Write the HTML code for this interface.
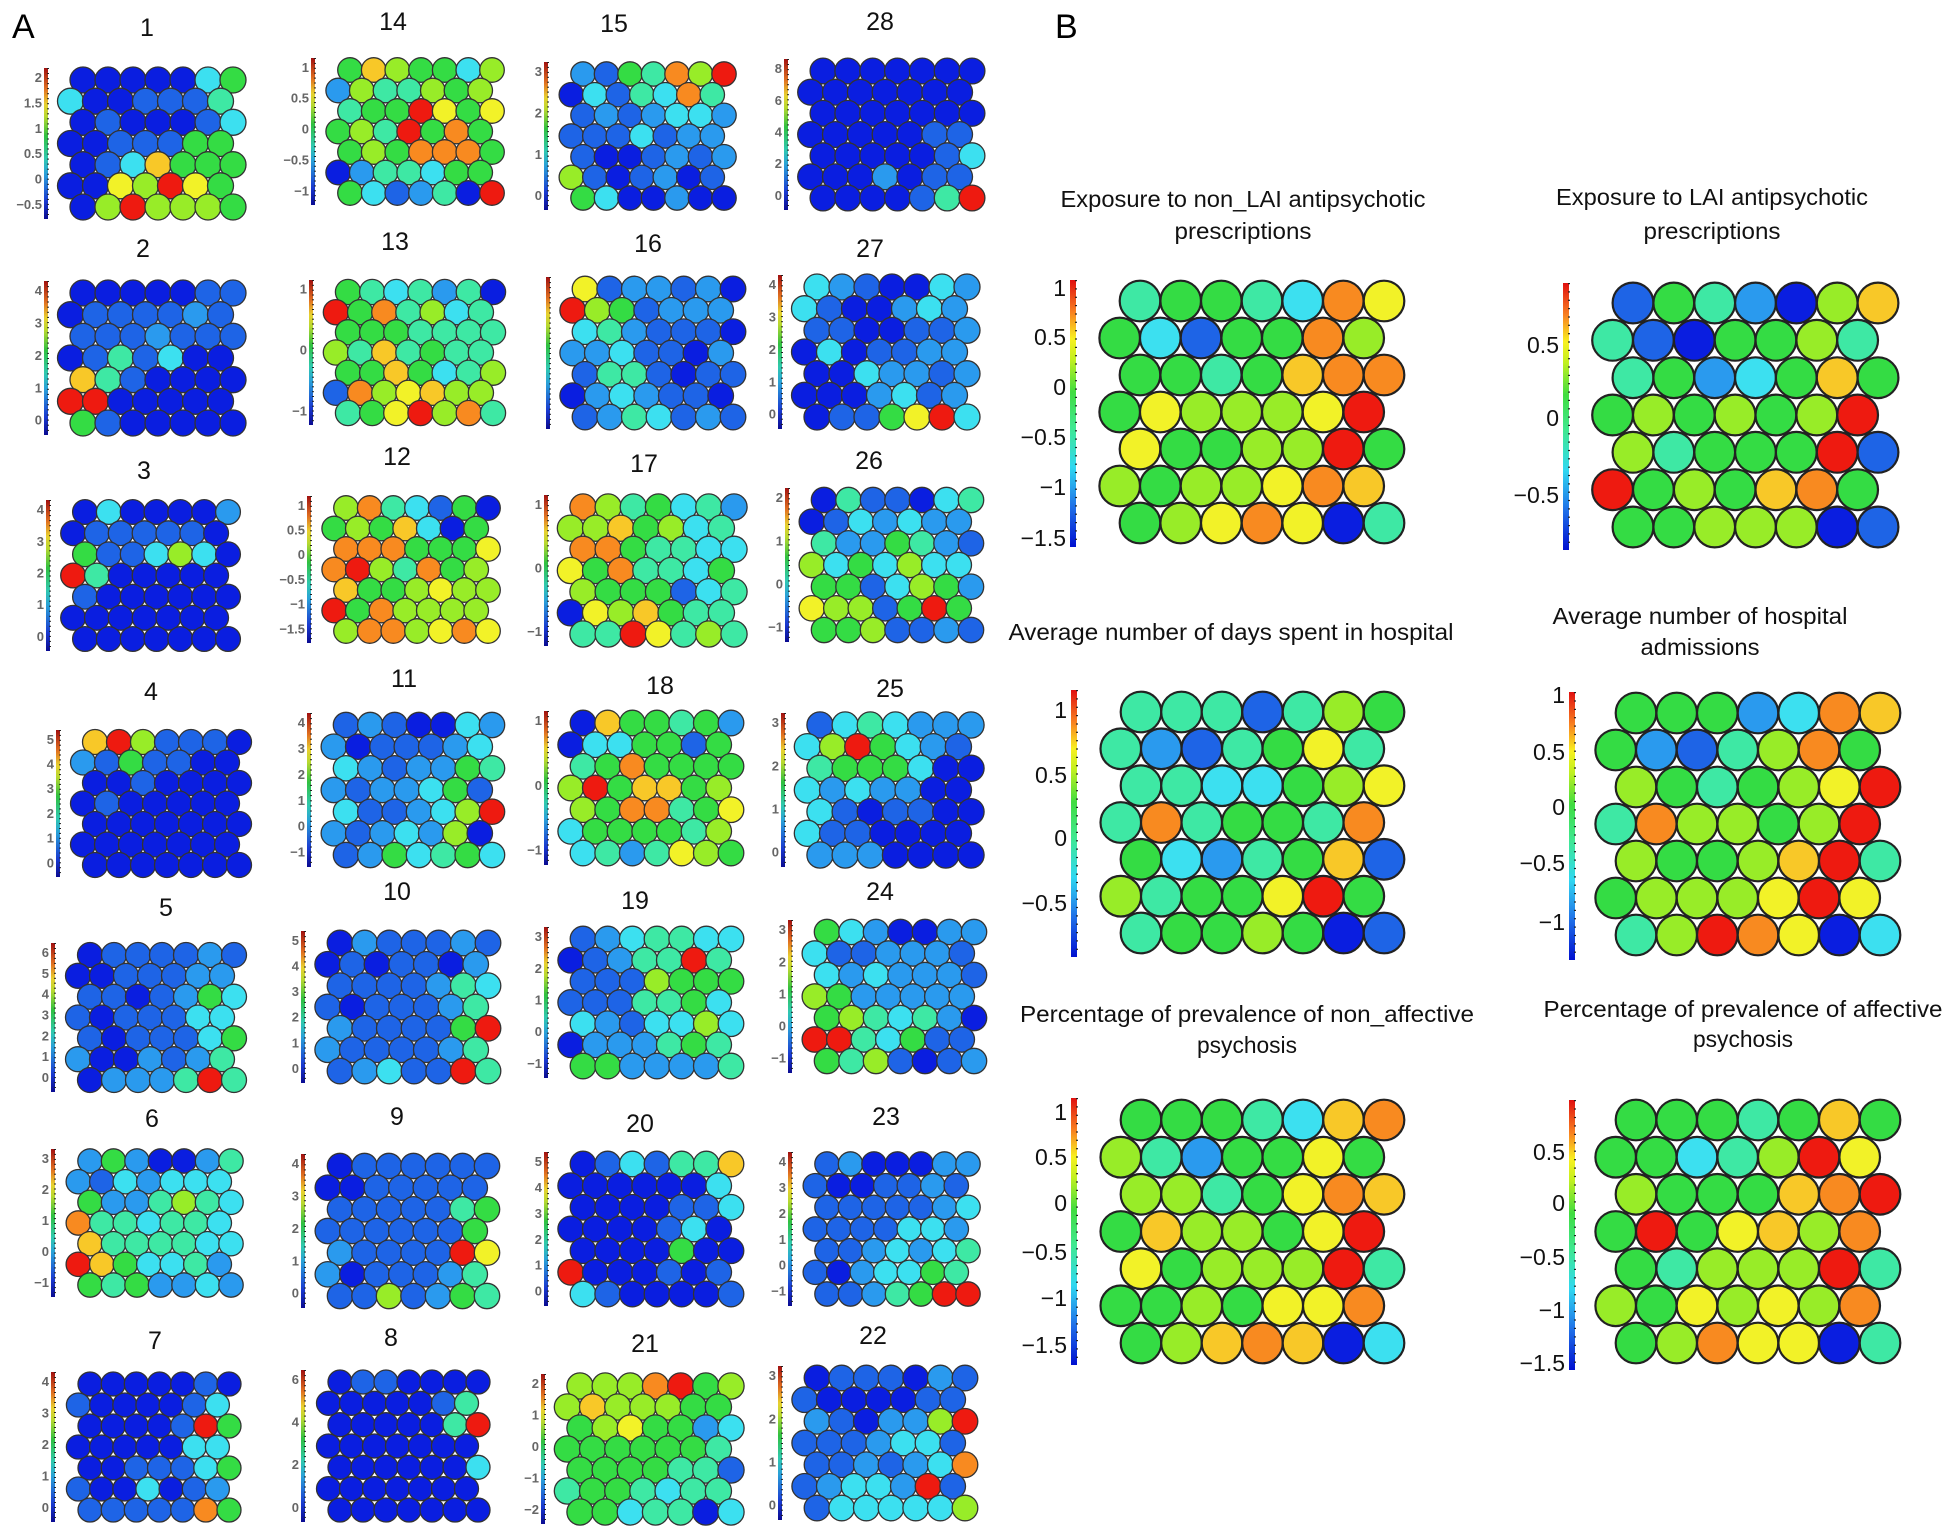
<!DOCTYPE html>
<html><head><meta charset="utf-8"><style>
html,body{margin:0;padding:0;background:#fff;}
svg{display:block;}
</style></head><body>
<svg id="s" xmlns="http://www.w3.org/2000/svg" width="1950" height="1536" viewBox="0 0 1950 1536" font-family="Liberation Sans, sans-serif">
<defs>
<linearGradient id="jet" x1="0" y1="1" x2="0" y2="0">
<stop offset="0" stop-color="#0a0a90"/><stop offset="0.12" stop-color="#1a3ad0"/><stop offset="0.3" stop-color="#2aa0d8"/><stop offset="0.4" stop-color="#30c8b0"/><stop offset="0.55" stop-color="#30c040"/><stop offset="0.68" stop-color="#b8d830"/><stop offset="0.76" stop-color="#e8d030"/><stop offset="0.86" stop-color="#e07020"/><stop offset="1" stop-color="#a01010"/>
</linearGradient>
<linearGradient id="jetB" x1="0" y1="1" x2="0" y2="0">
<stop offset="0" stop-color="#0010d0"/><stop offset="0.15" stop-color="#2070e8"/><stop offset="0.3" stop-color="#30d8f0"/><stop offset="0.45" stop-color="#40e890"/><stop offset="0.58" stop-color="#40dc40"/><stop offset="0.7" stop-color="#c0f020"/><stop offset="0.78" stop-color="#f8f020"/><stop offset="0.88" stop-color="#f88020"/><stop offset="1" stop-color="#e01010"/>
</linearGradient>
</defs>
<text x="12" y="38" font-size="34">A</text>
<text x="1055" y="38" font-size="34">B</text>
</svg>
<script>
var P={b:'#0a1ee0',B:'#1e64e6',m:'#2a9aee',c:'#3ce0f0',t:'#3ee8a4',g:'#34dc44',l:'#98ec28',y:'#f2f228',Y:'#f8c828',o:'#f88a20',r:'#ee1a10'};
var s=document.getElementById('s');var out='';
var A=[
['1',147,36,83,80,233,207,['2','1.5','1','0.5','0','-0.5'],['bbbbbcg','cbbBBBt','bBbbbBc','bbBBBgg','bBcYggg','bbylryg','blrlllg']],
['14',393,30,350,70,492,193,['1','0.5','0','-0.5','-1'],['gYlggcl','mlttlgl','tggrygy','gltrgog','glgooog','bmttcgg','gcBmtbr']],
['15',614,32,583,74,724,198,['3','2','1','0'],['mBgtolr','bcBtcot','BmBmccm','BBBcBmm','BbbBmBm','lBbBmbB','gcbbmbb']],
['28',880,30,823,71,972,198,['8','6','4','2','0'],['bbbbbbb','bbbbbbb','bbbbbbb','bbbbbBB','bbbbbBc','bbbmbBB','bbbbBtr']],
['2',143,257,83,293,233,423,['4','3','2','1','0'],['bbbbbBB','bBBBBmB','BBBmBBB','bBtBcbb','YtBbbbb','rrbbbbb','gBbbbbb']],
['13',395,250,348,292,493,413,['1','0','-1'],['gtctmtb','rgotlct','gggtttt','ltYtgtt','ggYgctl','BolyYll','tgyrlot']],
['16',648,252,585,289,733,417,[],['yBmmBmb','rlgBmmm','ctmBBBb','mmcBBbm','BttBbBB','bmcmBBb','BmtcBmB']],
['27',870,257,817,287,967,417,['4','3','2','1','0'],['cmBbbcm','cBbbmcm','BBbbBBm','bcbBBmm','bbcmmBm','bbbmcBm','bBBgyrc']],
['3',144,479,85,512,228,639,['4','3','2','1','0'],['bcbbbbm','bBBBBBb','gBBclcb','rtbbbbb','Bbbbbbb','bbbbbbb','bbbbbbb']],
['12',397,465,346,508,488,631,['1','0.5','0','-0.5','-1','-1.5'],['lotcBgb','glgYcbg','ooogggy','orltogl','Ygglyll','rgollll','loolyoy']],
['17',644,472,583,507,734,634,['1','0','-1'],['oltgctm','llYglct','oogttcc','ygottcg','lgggBct','bylYgtt','ttrytlt']],
['26',869,469,824,500,971,630,['2','1','0','-1'],['btBBbct','bBcmcmm','tmmgtmB','lcgclcc','ggBclgm','yllBgrg','gglBBmB']],
['4',151,700,95,742,239,865,['5','4','3','2','1','0'],['YrlBBBb','mBgBBbb','bbBbbbb','bBbbbbb','bbbbbbb','bbbbbbb','bbbbbbb']],
['11',404,687,346,725,492,855,['4','3','2','1','0','-1'],['BmBbbcm','mbBBBmc','cmBmmgt','mBmmcgB','cBBmclr','mBmcmlb','Bmgctgc']],
['18',660,694,583,723,731,853,['1','0','-1'],['bYggtgm','bccggBg','tgogggg','lrgYYgl','lgootgy','cggggtl','ctmtylg']],
['25',890,697,820,725,971,855,['3','2','1','0'],['Bctcmmm','clrgcmB','tgggcbb','cmcmmbb','cBbBBbb','cBBbbbb','mmmbbbb']],
['5',166,916,90,955,234,1080,['6','5','4','3','2','1','0'],['bBBBBmB','bbBBBmm','BBbBmgc','BbBBBcc','BbBBBcg','mbbmBmt','bmmmtrt']],
['10',397,900,340,943,488,1071,['5','4','3','2','1','0'],['bmBBBmB','bBbBBbm','BBBBmtc','BbBBBmt','mBBBBgr','mBBBBmt','BmcBBrt']],
['19',635,909,583,939,731,1066,['3','2','1','0','-1'],['Bmcttcc','bBmttrt','BBBlggg','BBBttgc','cmBcclc','bmmmtgt','ggmmmmt']],
['24',880,900,827,932,974,1061,['3','2','1','0','-1'],['gcmbbmm','cBBmmmB','cmcmmmB','lgmmmmm','gltctmb','rrtcgBB','gtlBbBm']],
['6',152,1127,90,1161,231,1285,['3','2','1','0','-1'],['mgmbbmt','mBcmccc','gmmtltc','ottcttc','Yttttcc','rYgcctm','gtgmmcm']],
['9',397,1125,340,1166,487,1296,['4','3','2','1','0'],['bBBBBBB','bbBBBBB','BBBBBtg','BBBBBBg','mBBBBry','mbBBBmt','BBlBmgt']],
['20',640,1132,583,1164,731,1294,['5','4','3','2','1','0'],['bBcBttY','bbbbbbc','bbbbBBc','bbbbBcb','bbbbgbb','rbbbBbB','cBbbbbB']],
['23',886,1125,827,1164,968,1294,['4','3','2','1','0','-1'],['Bmbbbmm','BbbBBmB','BBBBBmc','BBBBccm','BBmcmct','Bbmccgt','BBmtgrr']],
['7',155,1349,90,1384,229,1510,['4','3','2','1','0'],['bbbbbBb','BbbbbBc','bbbbBrg','bbbbbcc','bbBBBcg','BbbcbBm','BBBBBog']],
['8',391,1346,340,1382,478,1510,['6','4','2','0'],['bBBbbbb','bbbbbBt','bbbbbtr','bbbbbbb','bbbbbbc','bbbbbbb','bbbbbbb']],
['21',645,1352,580,1386,731,1512,['2','1','0','-1','-2'],['lllorgl','lYlllgg','glyggmc','ggggggt','ggggttB','tggtctt','ggcttbc']],
['22',873,1344,817,1378,965,1508,['3','2','1','0'],['bBBBbmB','BbbbbBB','mBbmmlr','BBBmccB','BBmBmco','BmccmrB','Bcccccl']]
];
A.forEach(function(m){
 var x0=m[3],y0=m[4],dx=(m[5]-x0)/6,dy=(m[6]-y0)/6,r=dx*0.52;
 out+='<text x="'+m[1]+'" y="'+m[2]+'" font-size="25" text-anchor="middle" fill="#111">'+m[0]+'</text>';
 var cbx=x0-39,cy0=y0-12,cy1=m[6]+12;
 out+='<rect x="'+cbx+'" y="'+cy0+'" width="4" height="'+(cy1-cy0)+'" fill="url(#jet)"/>';
 for(var k=0;k<30;k++){var yy=cy0+k*(cy1-cy0)/30;out+='<rect x="'+(cbx+3)+'" y="'+yy.toFixed(1)+'" width="2" height="1" fill="#222"/>';}
 var L=m[7];for(var i=0;i<L.length;i++){var ly=cy0+(cy1-cy0)*(0.06+0.84*(L.length>1?i/(L.length-1):0));
  out+='<text x="'+(cbx-2)+'" y="'+(ly+5).toFixed(1)+'" font-size="13" font-weight="bold" text-anchor="end" fill="#666">'+L[i].replace('-','\u2212')+'</text>';}
 for(var rI=0;rI<7;rI++){var row=m[8][rI];for(var c=0;c<7;c++){var ch=row[c]||'b';
  var cx=x0+c*dx-(rI%2?dx/2:0),cy=y0+rI*dy;
  out+='<circle cx="'+cx.toFixed(1)+'" cy="'+cy.toFixed(1)+'" r="'+r.toFixed(1)+'" fill="'+P[ch]+'" stroke="#333" stroke-width="1.3"/>';}}
});
var B=[
[[['Exposure to non_LAI antipsychotic',1243,207,365],['prescriptions',1243,239,137]],1140,301,1384,523,1070,280,547,[['1',288],['0.5',337],['0',387],['-0.5',437],['-1',487],['-1.5',538]],['tggtcoy','gcBggol','ggtgYoo','gylllyr','yggllrg','lgllyoY','glyoybt']],
[[['Exposure to LAI antipsychotic',1712,205,312],['prescriptions',1712,239,137]],1633,303,1878,527,1563,283,550,[['0.5',345],['0',418],['-0.5',495]],['BgtmblY','tBbgglt','tgmcgYg','glglglr','ltgggrB','rglgYog','gglllbB']],
[[['Average number of days spent in hospital',1231,640,445]],1141,712,1384,933,1071,690,957,[['1',710],['0.5',775],['0',838],['-0.5',903]],['tttBtlg','tmBtgyt','ttccgly','totggto','gcmtgYB','ltggyrg','tgglgbB']],
[[['Average number of hospital',1700,624,295],['admissions',1700,655,119]],1636,713,1880,935,1569,692,960,[['1',695],['0.5',752],['0',807],['-0.5',863],['-1',922]],['gggmcoY','gmBtlog','lgtglyr','tollglr','lgglYrt','glllyry','tlroybc']],
[[['Percentage of prevalence of non_affective',1247,1022,454],['psychosis',1247,1053,100]],1141,1120,1384,1343,1071,1098,1365,[['1',1112],['0.5',1157],['0',1203],['-0.5',1252],['-1',1298],['-1.5',1345]],['gggtcYo','ltmggyg','lltgyoY','gYllgyr','ygllIrt'.replace('I','l'),'gglgyyo','glYoYbc']],
[[['Percentage of prevalence of affective',1743,1017,399],['psychosis',1743,1047,100]],1636,1120,1880,1343,1569,1100,1370,[['0.5',1152],['0',1203],['-0.5',1257],['-1',1310],['-1.5',1363]],['gggtgYg','ggctlry','lgggYor','grgyYlo','gtlllrt','lgylylo','gloyybt']]
];
B.forEach(function(m){
 m[0].forEach(function(t){out+='<text x="'+t[1]+'" y="'+t[2]+'" font-size="23" text-anchor="middle" fill="#111" textLength="'+t[3]+'" lengthAdjust="spacingAndGlyphs">'+t[0]+'</text>';});
 var x0=m[1],y0=m[2],dx=(m[3]-x0)/6,dy=(m[4]-y0)/6,r=dx*0.5;
 var cbx=m[5],cy0=m[6],cy1=m[7];
 out+='<rect x="'+cbx+'" y="'+cy0+'" width="6" height="'+(cy1-cy0)+'" fill="url(#jetB)"/>';
 for(var k=0;k<32;k++){var yy=cy0+k*(cy1-cy0)/32;out+='<rect x="'+(cbx+5)+'" y="'+yy.toFixed(1)+'" width="2" height="1.2" fill="#222"/>';}
 m[8].forEach(function(l){out+='<text x="'+(cbx-4)+'" y="'+(l[1]+8)+'" font-size="23" text-anchor="end" fill="#111">'+l[0].replace('-','\u2212')+'</text>';});
 for(var rI=0;rI<7;rI++){var row=m[9][rI];for(var c=0;c<7;c++){var ch=row[c]||'g';
  var cx=x0+c*dx-(rI%2?dx/2:0),cy=y0+rI*dy;
  out+='<circle cx="'+cx.toFixed(1)+'" cy="'+cy.toFixed(1)+'" r="'+r.toFixed(1)+'" fill="'+P[ch]+'" stroke="#222" stroke-width="2.2"/>';}}
});
s.insertAdjacentHTML('beforeend',out);
</script>
</body></html>
